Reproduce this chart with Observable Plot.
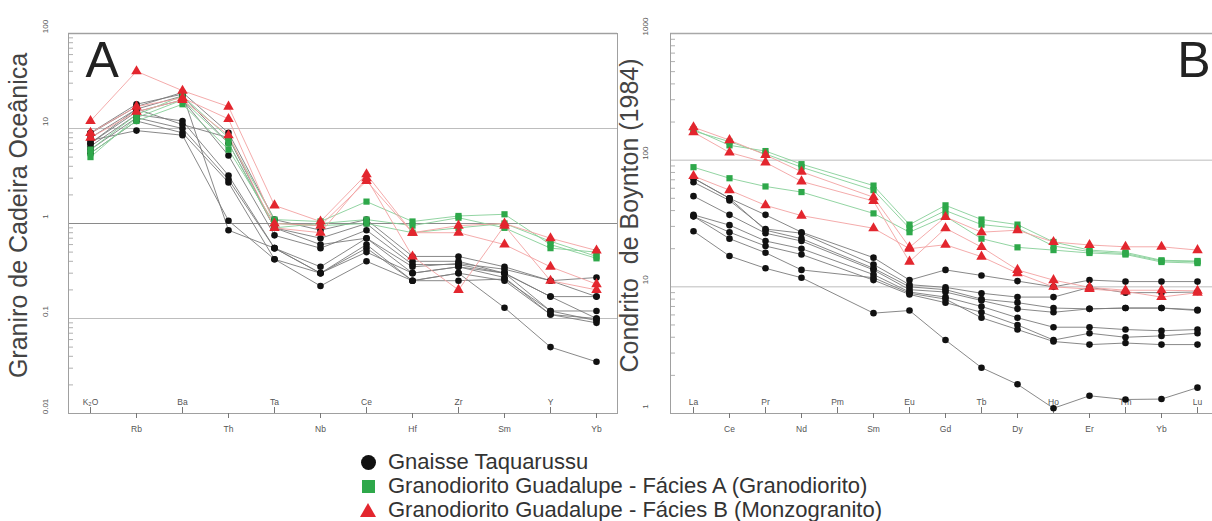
<!DOCTYPE html>
<html>
<head>
<meta charset="utf-8">
<script src="https://cdn.jsdelivr.net/npm/d3@7"></script>
<script src="https://cdn.jsdelivr.net/npm/@observablehq/plot@0.6"></script>
<style>
  html, body { margin: 0; padding: 0; background: #fff; }
  #wrap { position: relative; width: 1212px; height: 521px; overflow: hidden; font-family: "Liberation Sans", Arial, sans-serif; }
  #panelA { position: absolute; left: 0; top: 0; }
  #panelB { position: absolute; left: 605px; top: 0; }
  #legend { position: absolute; left: 358px; top: 450px; font-size: 22px; color: #333; line-height: 24px; }
  .row { display: flex; align-items: center; height: 24px; white-space: nowrap; }
  .mk { width: 20px; display: inline-flex; justify-content: center; margin-right: 10px; }
  .circ { width: 15px; height: 15px; border-radius: 50%; background: #111; }
  .sq { width: 13px; height: 13px; background: #2ea84a; }
  .tri { width: 0; height: 0; border-left: 8px solid transparent; border-right: 8px solid transparent; border-bottom: 14px solid #e3262e; }
</style>
</head>
<body>
<div id="wrap">
  <div id="panelA"></div>
  <div id="panelB"></div>
  <div id="legend"></div>
</div>
<script>
// ---------- Panel A: normalized to ocean ridge granite ----------
const elemsA = ["K2O", "Rb", "Ba", "Th", "Ta", "Nb", "Ce", "Hf", "Zr", "Sm", "Y", "Yb"];
const topLabelsA = ["K2O", "Ba", "Ta", "Ce", "Zr", "Y"];
const bottomLabelsA = ["Rb", "Th", "Nb", "Hf", "Sm", "Yb"];
const decadesA = [0.01, 0.1, 1, 10, 100];

const gnaisseA = [
  [8.9, 17, 24, 9.0, 1.1, 0.85, 1.1, 0.45, 0.45, 0.35, 0.25, 0.27],
  [8.0, 16, 22, 7.0, 0.9, 0.7, 1.0, 0.4, 0.4, 0.3, 0.17, 0.17],
  [7.0, 15, 20, 5.2, 0.75, 0.55, 0.85, 0.37, 0.37, 0.3, 0.12, 0.12],
  [6.5, 14, 12, 3.2, 0.55, 0.35, 0.7, 0.3, 0.35, 0.27, 0.11, 0.1],
  [6.0, 13, 10, 2.9, 0.55, 0.3, 0.6, 0.25, 0.3, 0.25, 0.11, 0.09],
  [5.5, 12, 9.0, 2.7, 0.42, 0.3, 0.55, 0.25, 0.25, 0.26, 0.12, 0.095],
  [7.5, 9.5, 8.5, 1.07, 0.42, 0.22, 0.4, 0.25, 0.3, 0.13, 0.05, 0.035],
  [9.0, 18, 23, 0.85, 0.55, 0.3, 0.5, 0.3, 0.35, 0.3, 0.17, 0.1],
  [7.0, 16, 11, 8.0, 0.9, 0.6, 0.7, 0.35, 0.38, 0.33, 0.25, 0.17]
];
const faciesA_A = [
  [6.0, 14, 22, 8.0, 1.1, 1.05, 1.7, 1.05, 1.2, 1.25, 0.6, 0.43],
  [5.0, 13, 20, 7.0, 0.9, 1.0, 1.1, 0.95, 1.15, 0.9, 0.55, 0.5],
  [5.5, 12, 18, 6.0, 1.0, 0.95, 1.0, 0.8, 0.9, 1.0, 0.65, 0.45]
];
const faciesB_A = [
  [12, 40, 25, 17, 1.55, 1.05, 3.3, 0.8, 0.95, 1.0, 0.7, 0.52],
  [9.0, 17, 21, 12.6, 1.0, 0.95, 2.8, 0.8, 0.8, 0.6, 0.35, 0.23],
  [8.0, 15, 20, 8.5, 0.9, 0.8, 3.0, 0.45, 0.2, 0.95, 0.25, 0.2]
];

// ---------- Panel B: chondrite normalized (Boynton 1984) ----------
const elemsB = ["La", "Ce", "Pr", "Nd", "Pm", "Sm", "Eu", "Gd", "Tb", "Dy", "Ho", "Er", "Tm", "Yb", "Lu"];
const reeMeasured = ["La", "Ce", "Pr", "Nd", "Sm", "Eu", "Gd", "Tb", "Dy", "Ho", "Er", "Tm", "Yb", "Lu"];
const topLabelsB = ["La", "Pr", "Pm", "Eu", "Tb", "Ho", "Tm", "Lu"];
const bottomLabelsB = ["Ce", "Nd", "Sm", "Gd", "Dy", "Er", "Yb"];
const decadesB = [1, 10, 100, 1000];

const gnaisseB = [
  [72, 50, 37, 27, 17, 11.3, 13.6, 12.3, 11.1, 10, 11.3, 11, 11, 11],
  [67, 48, 28.6, 26.5, 15, 10.4, 9.9, 8.9, 8.3, 8.3, 9.9, 9.0, 9.0, 9.1],
  [52, 37, 26.5, 23, 13.6, 9.5, 9.1, 7.8, 6.7, 6.3, 6.7, 6.8, 6.8, 6.5],
  [37, 30.7, 23, 20, 12.5, 9.1, 8.3, 7.0, 5.7, 4.8, 4.8, 4.6, 4.5, 4.6],
  [36, 27, 21, 18, 11.3, 8.7, 7.5, 6.3, 5.0, 3.8, 4.3, 4.0, 4.1, 4.3],
  [36, 24, 18.6, 13.6, 11.8, 8.9, 8.0, 5.7, 4.6, 3.7, 3.5, 3.6, 3.5, 3.5],
  [27.5, 17.5, 14, 11.8, 6.2, 6.5, 3.8, 2.3, 1.7, 1.1, 1.38, 1.29, 1.3, 1.6],
  [72, 50, 28, 24, 14, 10, 9.5, 8.0, 7.5, 6.8, 6.7, 6.8, 6.8, 6.6]
];
const faciesA_B = [
  [175, 131, 118, 93, 63, 31, 44, 34, 31, 22.6, 19.5, 18.7, 16.2, 16],
  [88, 72, 62, 56, 38, 27, 36, 24, 20.5, 19.5, 18.5, 18, 15.7, 15.4],
  [170, 140, 112, 88, 58, 29, 40, 31, 29, 21, 19, 18.3, 16, 15.8]
];
const faciesB_B = [
  [182, 144, 110, 81, 51, 20.5, 35.6, 27, 28, 22.6, 21.4, 20.7, 20.7, 19.5],
  [166, 115, 96, 68, 47.6, 15.8, 29, 20.6, 13.6, 11.3, 9.9, 9.4, 9.4, 9.3],
  [75, 58, 44, 36.5, 29, 20, 21.5, 17.3, 12.8, 10, 9.6, 9.2, 8.3, 9.0]
];

const legendItems = [
  {label: "Gnaisse Taquarussu", cls: "circ"},
  {label: "Granodiorito Guadalupe - Fácies A (Granodiorito)", cls: "sq"},
  {label: "Granodiorito Guadalupe - Fácies B (Monzogranito)", cls: "tri"}
];

const styles = {
  gn: {line: "#7a7a7a", dot: "#111111", symbol: "circle", r: 3.3},
  fa: {line: "#86cf97", dot: "#2ea84a", symbol: "square", r: 3.5},
  fb: {line: "#f3a2a2", dot: "#e3262e", symbol: "triangle", r: 3.9}
};

function toRows(samples, elems, group) {
  return samples.flatMap((vals, i) => vals.map((v, j) => ({id: group + i, group, elem: elems[j], value: v})));
}

function panel(o) {
  const groups = [
    ["gn", toRows(o.gn, o.measured, "gn")],
    ["fa", toRows(o.fa, o.measured, "fa")],
    ["fb", toRows(o.fb, o.measured, "fb")]
  ];
  const lines = groups.map(([g, rows]) => Plot.line(rows, {x: "elem", y: "value", z: "id", stroke: styles[g].line, strokeWidth: 0.9}));
  const dots = groups.map(([g, rows]) => Plot.dot(rows, {x: "elem", y: "value", symbol: () => styles[g].symbol, r: styles[g].r, fill: styles[g].dot, stroke: "none"}));
  const minors = o.decades.slice(0, -1).flatMap(d => [2, 3, 4, 5, 6, 7, 8, 9].map(k => k * d));
  const areaW = o.width - o.marginLeft - o.marginRight;
  return Plot.plot({
    width: o.width,
    height: 445,
    marginTop: 33,
    marginBottom: 32,
    marginLeft: o.marginLeft,
    marginRight: o.marginRight,
    style: {fontFamily: "Liberation Sans, Arial, sans-serif", background: "transparent", color: "#555"},
    x: {type: "point", domain: o.elems, range: o.xRange, padding: o.padding},
    y: {type: "log", domain: [o.decades[0], o.decades[o.decades.length - 1]], axis: null},
    symbol: {type: "identity"},
    marks: [
      Plot.ruleY(o.decades.filter(d => d !== 1), {y: d => d, stroke: "#bdbdbd", strokeWidth: 1}),
      Plot.ruleY(o.decades.filter(d => d === 1 && o.decades[0] !== 1), {y: d => d, stroke: "#8a8a8a", strokeWidth: 1}),
      Plot.ruleY([o.decades[o.decades.length - 1]], {stroke: "#a8a8a8", strokeWidth: 1.6}),
      Plot.tickY(minors, {y: d => d, stroke: "#b0b0b0", insetRight: areaW - 5}),
      o.fullFrame ? Plot.frame({stroke: "#a0a0a0"}) : Plot.frame({anchor: "left", stroke: "#a0a0a0"}),
      Plot.frame({anchor: "bottom", stroke: "#a0a0a0"}),
      Plot.axisX({ticks: o.bottom, tickSize: 5, tickPadding: 7, fontSize: 8.5, stroke: "#777", fill: "#555", label: null, tickFormat: d => d}),
      Plot.tickX(o.top, {x: d => d, stroke: "#777", insetTop: 374}),
      Plot.text(o.top, {x: d => d, text: d => d === "K2O" ? "K₂O" : d, frameAnchor: "bottom", dy: -9, fontSize: 8.5, fill: "#555"}),
      Plot.text(o.decades, {y: d => d, text: d => String(d), frameAnchor: "left", textAnchor: "middle", dx: o.tickDx, dy: -7, rotate: -90, fontSize: 8, fill: "#555"}),
      Plot.text([o.title], {frameAnchor: "left", textAnchor: "middle", dx: o.titleDx, dy: -8, rotate: -90, fontSize: 25, fill: "#444"}),
      Plot.text([o.letter], {frameAnchor: o.letterAnchor, dx: o.letterDx, dy: 8, fontSize: 50, lineAnchor: "top", textAnchor: o.letterTextAnchor, fill: "#222"}),
      ...lines,
      ...dots
    ]
  });
}

document.getElementById("panelA").append(panel({
  elems: elemsA, measured: elemsA, top: topLabelsA, bottom: bottomLabelsA, decades: decadesA,
  gn: gnaisseA, fa: faciesA_A, fb: faciesB_A,
  width: 620, marginLeft: 68, marginRight: 3, xRange: [68, 617], padding: 0.43,
  fullFrame: true, tickDx: -23, titleDx: -50,
  title: "Graniro de Cadeira Oceânica", letter: "A", letterAnchor: "top-left", letterDx: 17, letterTextAnchor: "start"
}));

document.getElementById("panelB").append(panel({
  elems: elemsB, measured: reeMeasured, top: topLabelsB, bottom: bottomLabelsB, decades: decadesB,
  gn: gnaisseB, fa: faciesA_B, fb: faciesB_B,
  width: 607, marginLeft: 65, marginRight: 0, xRange: [65, 615], padding: 0.55,
  fullFrame: false, tickDx: -25, titleDx: -41,
  title: "Condrito  de Boynton (1984)", letter: "B", letterAnchor: "top-right", letterDx: -2, letterTextAnchor: "end"
}));

const legend = document.getElementById("legend");
for (const it of legendItems) {
  const row = document.createElement("div");
  row.className = "row";
  const mk = document.createElement("span");
  mk.className = "mk";
  const shape = document.createElement("span");
  shape.className = it.cls;
  mk.append(shape);
  const txt = document.createElement("span");
  txt.textContent = it.label;
  row.append(mk, txt);
  legend.append(row);
}
</script>
</body>
</html>
